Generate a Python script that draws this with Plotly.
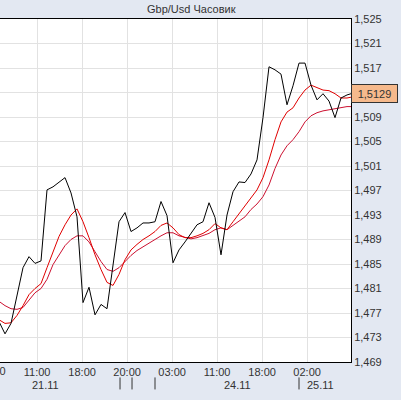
import plotly.graph_objects as go

# Hourly GBP/USD closes (bar index 0..59)
close = [1.4756, 1.4736, 1.4753, 1.4798, 1.4844, 1.4862, 1.4851, 1.4855, 1.4971, 1.4976,
         1.4983, 1.4991, 1.4966, 1.4927, 1.4787, 1.4812, 1.4767, 1.4784, 1.4777, 1.4849,
         1.4919, 1.4934, 1.4903, 1.4909, 1.4917, 1.4917, 1.4919, 1.4952, 1.4929, 1.4852,
         1.4873, 1.4886, 1.4901, 1.4914, 1.4919, 1.4950, 1.4926, 1.4865, 1.4930, 1.4968,
         1.4984, 1.4983, 1.4997, 1.5020, 1.5089, 1.5172, 1.5167, 1.5160, 1.5110, 1.5141,
         1.5178, 1.5178, 1.5142, 1.5118, 1.5128, 1.5116, 1.5089, 1.5121, 1.5126, 1.5129]

ma_fast = [1.4759, 1.4753, 1.4754, 1.4766, 1.4782, 1.4800, 1.4810, 1.4818, 1.4844, 1.4870,
           1.4895, 1.4914, 1.4930, 1.4940, 1.4919, 1.4893, 1.4865, 1.4841, 1.4820, 1.4815,
           1.4833, 1.4857, 1.4873, 1.4882, 1.4890, 1.4896, 1.4903, 1.4913, 1.4917, 1.4909,
           1.4898, 1.4893, 1.4893, 1.4896, 1.4900, 1.4906, 1.4916, 1.4909, 1.4906, 1.4919,
           1.4932, 1.4944, 1.4958, 1.4971, 1.4991, 1.5020, 1.5053, 1.5082, 1.5098, 1.5105,
           1.5121, 1.5134, 1.5142, 1.5138, 1.5134, 1.5133, 1.5128, 1.5121, 1.5121, 1.5123]

ma_slow = [1.4789, 1.4782, 1.4777, 1.4776, 1.4779, 1.4792, 1.4803, 1.4810, 1.4825, 1.4849,
           1.4865, 1.4880, 1.4890, 1.4896, 1.4896, 1.4886, 1.4870, 1.4854, 1.4841, 1.4838,
           1.4844, 1.4854, 1.4864, 1.4872, 1.4878, 1.4885, 1.4891, 1.4896, 1.4901, 1.4901,
           1.4896, 1.4893, 1.4891, 1.4893, 1.4896, 1.4900, 1.4906, 1.4909, 1.4906, 1.4913,
           1.4921, 1.4927, 1.4939, 1.4948, 1.4960, 1.4979, 1.5006, 1.5028, 1.5043, 1.5053,
           1.5066, 1.5082, 1.5092, 1.5097, 1.5100, 1.5102, 1.5103, 1.5105, 1.5107, 1.5107]

bars = list(range(len(close)))

time_tick_pos = [6.35, 13.85, 21.35, 28.85, 36.35, 43.85, 51.35]
time_tick_text = ["11:00", "18:00", "20:00", "03:00", "11:00", "18:00", "02:00"]

date_pos = [7.67, 39.67, 53.5]
date_text = ["21.11", "24.11", "25.11"]
day_sep_pos = [20.17, 22.17, 26.0, 50.0]

y_ticks = [1.469, 1.473, 1.477, 1.481, 1.485, 1.489, 1.493, 1.497, 1.501, 1.505,
           1.509, 1.513, 1.517, 1.521, 1.525]
# the 1,513 label sits under the last-price box, so it is left blank
y_tick_text = ["" if abs(v - 1.513) < 1e-9 else f"{v:.3f}".replace(".", ",") for v in y_ticks]

last_price = close[-1]
title_text = "Gbp/Usd Часовик"

BG = "#e3e8f2"
TXT = "#333333"
FONT = "Liberation Sans"

fig = go.Figure()
fig.add_trace(go.Scatter(x=bars, y=ma_slow, mode="lines",
                         line=dict(color="#cc1030", width=1), hoverinfo="skip"))
fig.add_trace(go.Scatter(x=bars, y=ma_fast, mode="lines",
                         line=dict(color="#e00000", width=1), hoverinfo="skip"))
fig.add_trace(go.Scatter(x=bars, y=close, mode="lines",
                         line=dict(color="#000000", width=1), hoverinfo="skip"))

annotations = [
    dict(text=title_text, xref="paper", yref="paper", x=191 / 351, y=1.0, yshift=10,
         xanchor="center", yanchor="middle", showarrow=False,
         font=dict(family=FONT, size=11, color=TXT)),
    dict(text="04:00", xref="paper", yref="paper", x=-8 / 351, y=0, yshift=-9,
         xanchor="center", yanchor="middle", showarrow=False,
         font=dict(family=FONT, size=11, color=TXT)),
    dict(text=f"{last_price:.4f}".replace(".", ","), xref="paper", yref="y",
         x=1.0, y=last_price, xanchor="left", yanchor="middle", showarrow=False,
         width=45, height=17, bgcolor="#f6b98c", bordercolor="#333333",
         borderwidth=1, borderpad=0, align="center",
         font=dict(family=FONT, size=11, color=TXT)),
]
for p, t in zip(date_pos, date_text):
    annotations.append(dict(text=t, xref="x", yref="paper", x=p, y=0, yshift=-23,
                            xanchor="center", yanchor="middle", showarrow=False,
                            font=dict(family=FONT, size=11, color=TXT)))

shapes = []
for p in day_sep_pos:
    shapes.append(dict(type="line", xref="x", yref="paper", x0=p, x1=p,
                       y0=-0.045, y1=-0.080, line=dict(color="#333333", width=1)))

fig.update_layout(
    width=401, height=400,
    margin=dict(l=0, r=50, t=19, b=38, pad=0),
    paper_bgcolor=BG, plot_bgcolor="#ffffff",
    showlegend=False,
    annotations=annotations, shapes=shapes,
    font=dict(family=FONT, size=11, color=TXT),
    xaxis=dict(range=[0.1667, 58.667], tickmode="array", tickvals=time_tick_pos,
               ticktext=time_tick_text, showgrid=True, gridcolor="#e2e2e2", gridwidth=1,
               zeroline=False, showline=True, linecolor="#000000", linewidth=1,
               mirror=True, ticks="", tickfont=dict(family=FONT, size=11, color=TXT)),
    yaxis=dict(range=[1.469, 1.525], side="right", tickmode="array", tickvals=y_ticks,
               ticktext=y_tick_text, showgrid=True, gridcolor="#e2e2e2", gridwidth=1,
               zeroline=False, showline=True, linecolor="#000000", linewidth=1,
               ticks="", tickfont=dict(family=FONT, size=11, color=TXT)),
)

fig.write_html("out.html", config={"displayModeBar": False},
               post_script="document.body.style.margin='0';document.body.style.overflow='hidden';")
